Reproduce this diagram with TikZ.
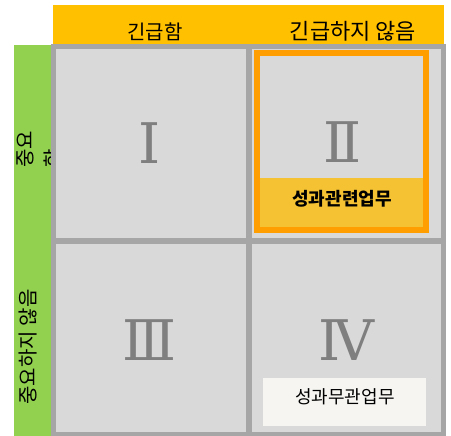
\documentclass[tikz,border=0pt]{standalone}
\usepackage{fontspec}
\setmainfont{Noto Sans CJK KR}
\newfontfamily\numfont{DejaVu Serif}

\definecolor{headorange}{HTML}{FFC000}
\definecolor{sidegreen}{HTML}{92D050}
\definecolor{gridgray}{HTML}{A6A6A6}
\definecolor{cellgray}{HTML}{D9D9D9}
\definecolor{frameorange}{HTML}{FF9E00}
\definecolor{bandyellow}{HTML}{F4C232}
\definecolor{notewhite}{HTML}{F6F5F2}
\definecolor{numgray}{HTML}{7F7F7F}

\tikzset{
	numeral/.style={text=numgray, font=\numfont\fontsize{56}{56}\selectfont},
	axislabel/.style={font=\fontsize{20}{22}\selectfont}
}

\begin{document}
\begin{tikzpicture}[x=1pt, y=-1pt]
			%%%%% START %%%%%
			\useasboundingbox (0,0) rectangle (451,436);
			
			\fill[headorange] (53,5) rectangle (444,44);
			\fill[sidegreen] (14,45) rectangle (51,436);
			
			\node[axislabel] (urgent) at (155,32) {긴급함};
			\node[axislabel, font=\fontsize{22}{24}\selectfont] (noturgent) at (353,31) {긴급하지 않음};
			
			\node[axislabel, font=\fontsize{20}{28}\selectfont, rotate=90, align=left, anchor=north west, inner sep=0] (important) at (17,168) {중요\\함};
			\node[axislabel, rotate=90] (notimportant) at (28,347) {중요하지 않음};
			
			\fill[gridgray] (51,44) rectangle (446,436);
			\fill[cellgray] (56,49) rectangle (246,238);
			\fill[cellgray] (252,49) rectangle (441,238);
			\fill[cellgray] (56,244) rectangle (246,432);
			\fill[cellgray] (252,244) rectangle (441,432);
			
			\node[numeral] (one) at (150,143) {Ⅰ};
			\node[numeral] (two) at (343,142) {Ⅱ};
			\node[numeral] (three) at (150,340) {Ⅲ};
			\node[numeral] (four) at (346,340) {Ⅳ};
			
			\fill[bandyellow] (260,178) rectangle (423,227);
			\draw[frameorange, line width=5.5] (257,53) rectangle (426,230);
			\node[font=\bfseries\fontsize{18}{18}\selectfont] (related) at (342,199) {성과관련업무};
			
			\fill[notewhite] (263,378) rectangle (426,426);
			\node[font=\fontsize{18}{18}\selectfont] (unrelated) at (345,397) {성과무관업무};
			
			%%%%% END %%%%%
\end{tikzpicture}
\end{document}
